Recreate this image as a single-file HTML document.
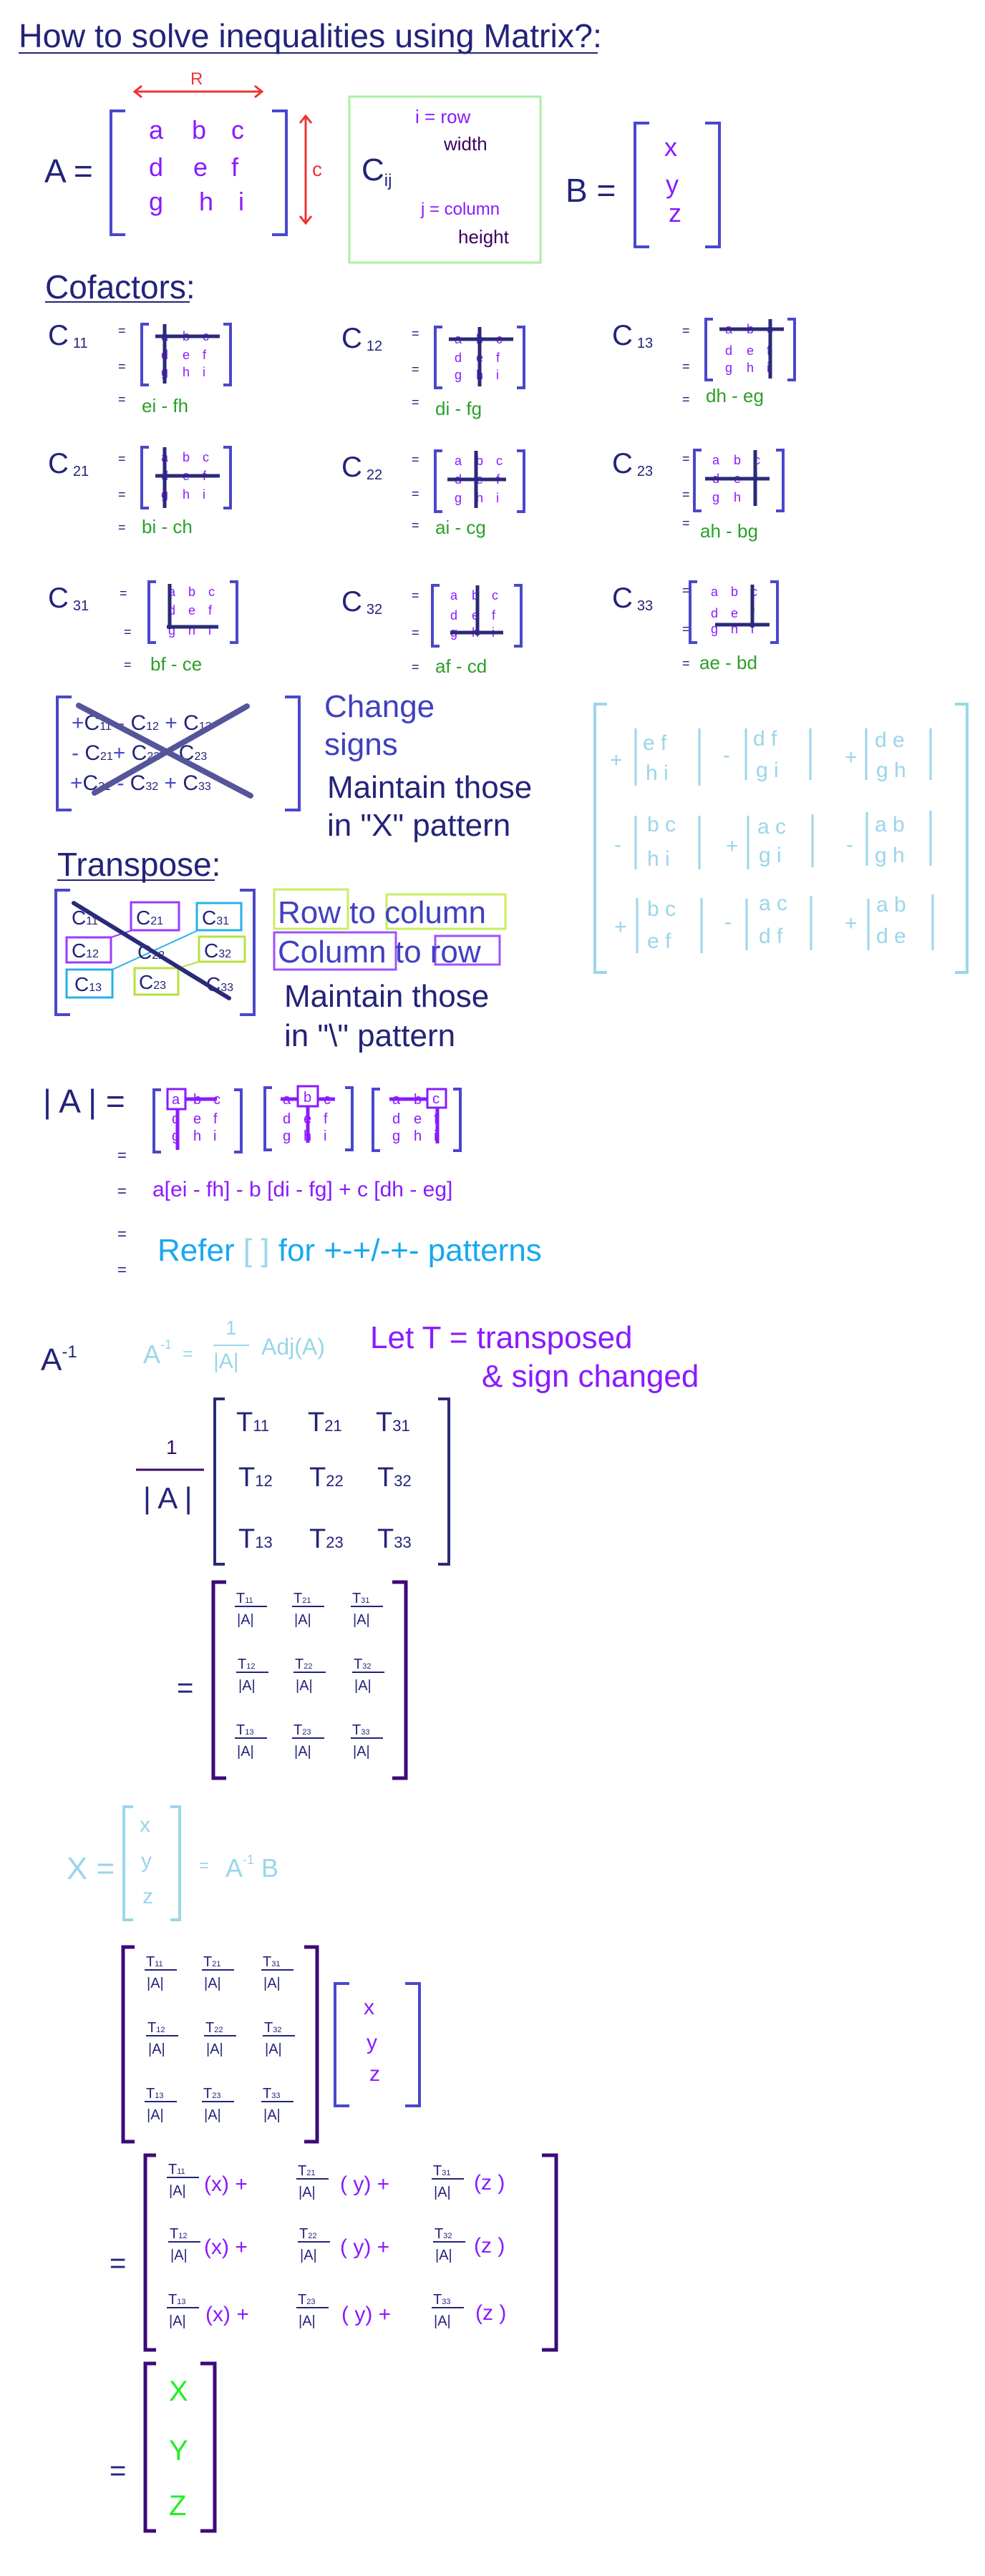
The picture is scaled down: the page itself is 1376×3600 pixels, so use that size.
<!DOCTYPE html>
<html><head><meta charset="utf-8"><style>
html,body{margin:0;padding:0;background:#fff}
svg{display:block}
text{font-family:"Liberation Sans",sans-serif}
.n{font-family:"Liberation Sans Narrow","Liberation Sans",sans-serif}
.br{fill:none;stroke:#4848cc;stroke-width:4}
.bp{fill:none;stroke:#3c0a7a;stroke-width:5}
.bl{fill:none;stroke:#9ad6ea;stroke-width:4}
.x{stroke:#2a2a7a;stroke-width:5;fill:none}
.p{fill:#8a1aff}
.nv{fill:#23237a}
.g{fill:#2aa02a}
.lb{fill:#9ad6ea}
</style></head><body>
<svg width="1376" height="3600" viewBox="0 0 1376 3600" xmlns="http://www.w3.org/2000/svg">
<!-- Title -->
<text x="26" y="66" class="n nv" font-size="46" textLength="815" lengthAdjust="spacingAndGlyphs">How to solve inequalities using Matrix?:</text>
<line x1="26" y1="74" x2="835" y2="74" stroke="#23237a" stroke-width="2"/>

<!-- A = -->
<text x="62" y="255" class="nv" font-size="46">A =</text>
<path class="br" d="M175 155 H155 V328 H175 M380 155 H400 V328 H380"/>
<g class="p" font-size="36">
<text x="208 268 323" y="194">abc</text>
<text x="208 270 323" y="246">def</text>
<text x="208 278 333" y="294">ghi</text>
</g>
<!-- red arrows -->
<g stroke="#ee3333" stroke-width="3" fill="none">
<path d="M188 128 H366 M198 120 L188 128 L198 136 M356 120 L366 128 L356 136"/>
<path d="M427 162 V312 M419 172 L427 162 L435 172 M419 302 L427 312 L435 302"/>
</g>
<text x="266" y="118" fill="#ee3333" font-size="24">R</text>
<text x="436" y="246" fill="#ee3333" font-size="28">c</text>
<!-- green box -->
<rect x="488" y="135" width="267" height="232" fill="none" stroke="#aaf0a0" stroke-width="3"/>
<text x="505" y="252" class="nv" font-size="44">C<tspan font-size="24" dy="8">ij</tspan></text>
<text x="580" y="172" class="p" font-size="26">i = row</text>
<text x="620" y="210" fill="#3a0060" font-size="26">width</text>
<text x="588" y="300" class="p" font-size="24">j = column</text>
<text x="640" y="340" fill="#3a0060" font-size="26">height</text>
<!-- B = -->
<text x="790" y="282" class="nv" font-size="46">B =</text>
<path class="br" d="M907 172 H887 V345 H907 M985 172 H1005 V345 H985"/>
<g class="p" font-size="36"><text x="928" y="218">x</text><text x="930" y="270">y</text><text x="934" y="310">z</text></g>

<!-- Cofactors -->
<text x="63" y="417" class="n nv" font-size="46">Cofactors:</text>
<line x1="63" y1="422" x2="265" y2="422" stroke="#23237a" stroke-width="2"/>

<!-- cofactor cells -->
<g font-size="18">
<!-- C11 -->
<g transform="translate(67,446)">
<text y="36" class="nv" font-size="40">C<tspan font-size="20" dx="6" dy="4">11</tspan></text>
<g class="nv"><text x="98" y="22">=</text><text x="98" y="72">=</text><text x="98" y="118">=</text></g>
<path class="br" d="M141 7 H131 V92 H141 M245 7 H255 V92 H245"/>
<g class="p"><text x="158 188 216" y="30">abc</text><text x="158 188 216" y="56">def</text><text x="158 188 216" y="80">ghi</text></g>
<path class="x" d="M150 24 H240 M163 7 V90"/>
<text x="131" y="130" class="g" font-size="26">ei - fh</text>
</g>
<!-- C12 -->
<g transform="translate(477,450)">
<text y="36" class="nv" font-size="40">C<tspan font-size="20" dx="6" dy="4">12</tspan></text>
<g class="nv"><text x="98" y="22">=</text><text x="98" y="72">=</text><text x="98" y="118">=</text></g>
<path class="br" d="M141 7 H131 V92 H141 M245 7 H255 V92 H245"/>
<g class="p"><text x="158 188 216" y="30">abc</text><text x="158 188 216" y="56">def</text><text x="158 188 216" y="80">ghi</text></g>
<path class="x" d="M150 24 H240 M193 7 V90"/>
<text x="131" y="130" class="g" font-size="26">di - fg</text>
</g>
<!-- C13 -->
<g transform="translate(855,446)">
<text y="36" class="nv" font-size="40">C<tspan font-size="20" dx="6" dy="4">13</tspan></text>
<g class="nv"><text x="98" y="22">=</text><text x="98" y="72">=</text><text x="98" y="118">=</text></g>
<path class="br" d="M141 0 H131 V85 H141 M245 0 H255 V85 H245"/>
<g class="p"><text x="158 188 216" y="20">abc</text><text x="158 188 216" y="50">def</text><text x="158 188 216" y="74">ghi</text></g>
<path class="x" d="M150 14 H240 M221 0 V83"/>
<text x="131" y="116" class="g" font-size="26">dh - eg</text>
</g>
<!-- C21 -->
<g transform="translate(67,625)">
<text y="36" class="nv" font-size="40">C<tspan font-size="20" dx="6" dy="4">21</tspan></text>
<g class="nv"><text x="98" y="22">=</text><text x="98" y="72">=</text><text x="98" y="118">=</text></g>
<path class="br" d="M141 0 H131 V85 H141 M245 0 H255 V85 H245"/>
<g class="p"><text x="158 188 216" y="20">abc</text><text x="158 188 216" y="46">def</text><text x="158 188 216" y="72">ghi</text></g>
<path class="x" d="M150 40 H240 M163 0 V85"/>
<text x="131" y="120" class="g" font-size="26">bi - ch</text>
</g>
<!-- C22 -->
<g transform="translate(477,630)">
<text y="36" class="nv" font-size="40">C<tspan font-size="20" dx="6" dy="4">22</tspan></text>
<g class="nv"><text x="98" y="18">=</text><text x="98" y="66">=</text><text x="98" y="110">=</text></g>
<path class="br" d="M141 0 H131 V85 H141 M245 0 H255 V85 H245"/>
<g class="p"><text x="158 188 216" y="20">abc</text><text x="158 188 216" y="46">def</text><text x="158 188 216" y="72">ghi</text></g>
<path class="x" d="M148 40 H230 M188 0 V80"/>
<text x="131" y="116" class="g" font-size="26">ai - cg</text>
</g>
<!-- C23 -->
<g transform="translate(855,625)">
<text y="36" class="nv" font-size="40">C<tspan font-size="20" dx="6" dy="4">23</tspan></text>
<g class="nv"><text x="98" y="22">=</text><text x="98" y="72">=</text><text x="98" y="112">=</text></g>
<path class="br" d="M125 4 H115 V89 H125 M229 4 H239 V89 H229"/>
<g class="p"><text x="140 170 198" y="24">abc</text><text x="140 170 198" y="50">def</text><text x="140 170 198" y="76">ghi</text></g>
<path class="x" d="M130 44 H220 M200 4 V82"/>
<text x="123" y="126" class="g" font-size="26">ah - bg</text>
</g>
<!-- C31 -->
<g transform="translate(67,813)">
<text y="36" class="nv" font-size="40">C<tspan font-size="20" dx="6" dy="4">31</tspan></text>
<g class="nv"><text x="100" y="22">=</text><text x="106" y="76">=</text><text x="106" y="122">=</text></g>
<path class="br" d="M151 0 H141 V85 H151 M254 0 H264 V85 H254"/>
<g class="p"><text x="168 196 224" y="20">abc</text><text x="168 196 224" y="46">def</text><text x="168 196 224" y="74">ghi</text></g>
<path class="x" d="M170 3 V66 M166 63 H238"/>
<text x="143" y="124" class="g" font-size="26">bf - ce</text>
</g>
<!-- C32 -->
<g transform="translate(477,818)">
<text y="36" class="nv" font-size="40">C<tspan font-size="20" dx="6" dy="4">32</tspan></text>
<g class="nv"><text x="98" y="20">=</text><text x="98" y="72">=</text><text x="98" y="120">=</text></g>
<path class="br" d="M137 0 H127 V85 H137 M241 0 H251 V85 H241"/>
<g class="p"><text x="152 182 210" y="20">abc</text><text x="152 182 210" y="48">def</text><text x="152 182 210" y="72">ghi</text></g>
<path class="x" d="M190 0 V70 M152 66 H226"/>
<text x="131" y="122" class="g" font-size="26">af - cd</text>
</g>
<!-- C33 -->
<g transform="translate(855,813)">
<text y="36" class="nv" font-size="40">C<tspan font-size="20" dx="6" dy="4">33</tspan></text>
<g class="nv"><text x="98" y="18">=</text><text x="98" y="72">=</text><text x="98" y="120">=</text></g>
<path class="br" d="M119 0 H109 V85 H119 M221 0 H231 V85 H221"/>
<g class="p"><text x="138 166 194" y="20">abc</text><text x="138 166 194" y="50">def</text><text x="138 166 194" y="72">ghi</text></g>
<path class="x" d="M196 4 V64 M144 60 H220"/>
<text x="122" y="122" class="g" font-size="26">ae - bd</text>
</g>
</g>

<!-- Change signs matrix -->
<path class="br" d="M100 974 H80 V1132 H100 M398 974 H418 V1132 H398"/>
<g class="nv" font-size="30">
<text x="100" y="1020"><tspan fill="#4848cc">+</tspan>C<tspan font-size="16">11</tspan> <tspan fill="#4848cc">-</tspan>  C<tspan font-size="16">12</tspan>  <tspan fill="#4848cc">+</tspan> C<tspan font-size="16">13</tspan></text>
<text x="100" y="1062"><tspan fill="#4848cc">-</tspan> C<tspan font-size="16">21</tspan><tspan fill="#4848cc">+</tspan>  C<tspan font-size="16">22</tspan>  <tspan fill="#4848cc">-</tspan> C<tspan font-size="16">23</tspan></text>
<text x="98" y="1104"><tspan fill="#4848cc">+</tspan>C<tspan font-size="16">31</tspan> <tspan fill="#4848cc">-</tspan> C<tspan font-size="16">32</tspan> <tspan fill="#4848cc">+</tspan> C<tspan font-size="16">33</tspan></text>
</g>
<path d="M110 986 L350 1112 M345 987 L132 1108" stroke="#55559a" stroke-width="8" stroke-linecap="round"/>
<g class="n" font-size="44" fill="#4040c0"><text x="453" y="1002">Change</text><text x="453" y="1055">signs</text></g>
<g class="n nv" font-size="44"><text x="457" y="1115">Maintain those</text><text x="457" y="1168">in "X" pattern</text></g>

<!-- light blue matrix -->
<path class="bl" d="M848 984 H831 V1359 H848 M1334 984 H1351 V1359 H1334"/>
<g class="lb" font-size="30">
<text x="852" y="1072">+</text><text x="898" y="1048">e f</text><text x="902" y="1090">h i</text>
<text x="1010" y="1065">-</text><text x="1052" y="1042">d f</text><text x="1056" y="1086">g i</text>
<text x="1180" y="1068">+</text><text x="1222" y="1044">d e</text><text x="1224" y="1086">g h</text>
<text x="858" y="1190">-</text><text x="904" y="1162">b c</text><text x="904" y="1210">h i</text>
<text x="1014" y="1192">+</text><text x="1058" y="1165">a c</text><text x="1060" y="1205">g i</text>
<text x="1182" y="1190">-</text><text x="1222" y="1162">a b</text><text x="1222" y="1205">g h</text>
<text x="858" y="1305">+</text><text x="904" y="1280">b c</text><text x="904" y="1325">e f</text>
<text x="1012" y="1298">-</text><text x="1060" y="1272">a c</text><text x="1060" y="1318">d f</text>
<text x="1180" y="1300">+</text><text x="1224" y="1274">a b</text><text x="1224" y="1318">d e</text>
</g>
<g stroke="#9ad6ea" stroke-width="3">
<path d="M888 1018 V1098 M977 1018 V1098 M1042 1018 V1090 M1132 1018 V1090 M1210 1018 V1090 M1300 1018 V1090"/>
<path d="M888 1140 V1215 M977 1140 V1215 M1045 1140 V1215 M1135 1138 V1212 M1211 1135 V1210 M1300 1133 V1210"/>
<path d="M890 1255 V1332 M980 1255 V1332 M1043 1256 V1328 M1133 1252 V1328 M1213 1256 V1328 M1303 1250 V1328"/>
</g>

<!-- Transpose -->
<text x="80" y="1224" class="n nv" font-size="46">Transpose:</text>
<line x1="80" y1="1230" x2="300" y2="1230" stroke="#23237a" stroke-width="2"/>
<path class="br" d="M98 1244 H78 V1418 H98 M335 1244 H355 V1418 H335"/>
<g fill="none" stroke-width="3">
<rect x="183" y="1261" width="67" height="39" stroke="#9a3aff"/>
<rect x="275" y="1262" width="62" height="38" stroke="#28b0e8"/>
<rect x="93" y="1310" width="62" height="35" stroke="#9a3aff"/>
<rect x="278" y="1309" width="64" height="35" stroke="#b8e040"/>
<rect x="93" y="1355" width="64" height="39" stroke="#28b0e8"/>
<rect x="188" y="1353" width="61" height="37" stroke="#b8e040"/>
<path d="M155 1310 L185 1300" stroke="#9a3aff" stroke-width="2"/>
<path d="M157 1355 L277 1300" stroke="#28b0e8" stroke-width="2"/>
<path d="M249 1353 L278 1344" stroke="#b8e040" stroke-width="2"/>
</g>
<g class="nv" font-size="28">
<text x="100" y="1292">C<tspan font-size="16">11</tspan></text>
<text x="190" y="1292">C<tspan font-size="16">21</tspan></text>
<text x="282" y="1292">C<tspan font-size="16">31</tspan></text>
<text x="100" y="1338">C<tspan font-size="16">12</tspan></text>
<text x="192" y="1340">C<tspan font-size="16">22</tspan></text>
<text x="285" y="1338">C<tspan font-size="16">32</tspan></text>
<text x="104" y="1385">C<tspan font-size="16">13</tspan></text>
<text x="194" y="1382">C<tspan font-size="16">23</tspan></text>
<text x="288" y="1385">C<tspan font-size="16">33</tspan></text>
</g>
<path d="M103 1262 L320 1395" stroke="#2a2a7a" stroke-width="6" stroke-linecap="round"/>
<g fill="none" stroke-width="3">
<rect x="383" y="1243" width="103" height="55" stroke="#c8ee60"/>
<rect x="540" y="1250" width="166" height="48" stroke="#c8ee60"/>
<rect x="383" y="1303" width="170" height="52" stroke="#a050ff"/>
<rect x="608" y="1308" width="90" height="40" stroke="#a050ff"/>
</g>
<g class="n" font-size="44" fill="#4040c0"><text x="388" y="1290">Row to column</text><text x="388" y="1345">Column to row</text></g>
<g class="n nv" font-size="44"><text x="397" y="1407">Maintain those</text><text x="397" y="1462">in "\" pattern</text></g>

<!-- |A| = -->
<text x="60" y="1555" class="nv" font-size="46">| A | =</text>
<g font-size="20" class="p">
<path class="br" d="M225 1523 H215 V1610 H225 M327 1523 H337 V1610 H327"/>
<text x="240 270 298" y="1543">abc</text><text x="240 270 298" y="1570">def</text><text x="240 270 298" y="1594">ghi</text>
<path d="M248 1536 H303 M248 1536 V1607" stroke="#8a1aff" stroke-width="5"/>
<rect x="234" y="1522" width="25" height="28" fill="#fff" stroke="#8a1aff" stroke-width="3"/><text x="240" y="1543">a</text>
<path class="br" d="M380 1520 H370 V1607 H380 M482 1520 H492 V1607 H482"/>
<text x="395 424 452" y="1543">abc</text><text x="395 424 452" y="1570">def</text><text x="395 424 452" y="1594">ghi</text>
<path d="M392 1536 H468 M430 1536 V1597" stroke="#8a1aff" stroke-width="5"/>
<rect x="416" y="1518" width="28" height="28" fill="#fff" stroke="#8a1aff" stroke-width="3"/><text x="424" y="1540">b</text>
<path class="br" d="M531 1522 H521 V1608 H531 M633 1522 H643 V1608 H633"/>
<text x="548 578 606" y="1543">abc</text><text x="548 578 606" y="1570">def</text><text x="548 578 606" y="1594">ghi</text>
<path d="M544 1536 H610 M611 1540 V1598" stroke="#8a1aff" stroke-width="5"/>
<rect x="597" y="1522" width="26" height="26" fill="#fff" stroke="#8a1aff" stroke-width="3"/><text x="604" y="1542">c</text>
</g>
<g class="nv" font-size="22"><text x="164" y="1622">=</text><text x="164" y="1672">=</text><text x="164" y="1732">=</text><text x="164" y="1782">=</text></g>
<text x="213" y="1672" class="p" font-size="30">a[ei - fh] - b [di - fg] + c [dh - eg]</text>
<text x="220" y="1762" class="n" font-size="44" fill="#18a8f0">Refer <tspan fill="#9ad6ea">[   ]</tspan> for +-+/-+- patterns</text>

<!-- A^-1 -->
<text x="57" y="1915" class="nv" font-size="44">A<tspan font-size="24" dy="-18">-1</tspan></text>
<g class="lb" font-size="36">
<text x="200" y="1905">A<tspan font-size="18" dy="-20">-1</tspan></text>
<text x="255" y="1900" font-size="24">=</text>
<text x="315" y="1865" font-size="28">1</text>
<line x1="298" y1="1880" x2="348" y2="1880" stroke="#9ad6ea" stroke-width="2"/>
<text x="298" y="1912" font-size="30">|A|</text>
<text x="365" y="1893" font-size="32">Adj(A)</text>
</g>
<g class="n p" font-size="44"><text x="517" y="1884">Let T = transposed</text><text x="673" y="1938">&amp; sign changed</text></g>

<!-- 1/|A| T matrix -->
<text x="232" y="2032" fill="#3a0a6a" font-size="28">1</text>
<line x1="190" y1="2054" x2="285" y2="2054" stroke="#3a0a6a" stroke-width="3"/>
<text x="200" y="2108" class="nv" font-size="42">| A |</text>
<path d="M314 1955 H300 V2186 H314 M612 1955 H627 V2186 H612" fill="none" stroke="#2a2a7a" stroke-width="4"/>
<g class="nv" font-size="38">
<text x="330" y="2000">T<tspan font-size="22">11</tspan></text><text x="430" y="2000">T<tspan font-size="22">21</tspan></text><text x="525" y="2000">T<tspan font-size="22">31</tspan></text>
<text x="333" y="2077">T<tspan font-size="22">12</tspan></text><text x="432" y="2077">T<tspan font-size="22">22</tspan></text><text x="527" y="2077">T<tspan font-size="22">32</tspan></text>
<text x="333" y="2163">T<tspan font-size="22">13</tspan></text><text x="432" y="2163">T<tspan font-size="22">23</tspan></text><text x="527" y="2163">T<tspan font-size="22">33</tspan></text>
</g>

<!-- fraction matrix 1 -->
<text x="247" y="2372" class="nv" font-size="40">=</text>
<path class="bp" d="M316 2211 H298 V2485 H316 M548 2211 H567 V2485 H548"/>
<g class="nv" font-size="20">
<g transform="translate(330,2240)"><text>T<tspan font-size="11">11</tspan></text><line x1="-2" y1="5" x2="43" y2="5" stroke="#23237a" stroke-width="2"/><text x="1" y="30">|A|</text></g>
<g transform="translate(410,2240)"><text>T<tspan font-size="11">21</tspan></text><line x1="-2" y1="5" x2="43" y2="5" stroke="#23237a" stroke-width="2"/><text x="1" y="30">|A|</text></g>
<g transform="translate(492,2240)"><text>T<tspan font-size="11">31</tspan></text><line x1="-2" y1="5" x2="43" y2="5" stroke="#23237a" stroke-width="2"/><text x="1" y="30">|A|</text></g>
<g transform="translate(332,2332)"><text>T<tspan font-size="11">12</tspan></text><line x1="-2" y1="5" x2="43" y2="5" stroke="#23237a" stroke-width="2"/><text x="1" y="30">|A|</text></g>
<g transform="translate(412,2332)"><text>T<tspan font-size="11">22</tspan></text><line x1="-2" y1="5" x2="43" y2="5" stroke="#23237a" stroke-width="2"/><text x="1" y="30">|A|</text></g>
<g transform="translate(494,2332)"><text>T<tspan font-size="11">32</tspan></text><line x1="-2" y1="5" x2="43" y2="5" stroke="#23237a" stroke-width="2"/><text x="1" y="30">|A|</text></g>
<g transform="translate(330,2424)"><text>T<tspan font-size="11">13</tspan></text><line x1="-2" y1="5" x2="43" y2="5" stroke="#23237a" stroke-width="2"/><text x="1" y="30">|A|</text></g>
<g transform="translate(410,2424)"><text>T<tspan font-size="11">23</tspan></text><line x1="-2" y1="5" x2="43" y2="5" stroke="#23237a" stroke-width="2"/><text x="1" y="30">|A|</text></g>
<g transform="translate(492,2424)"><text>T<tspan font-size="11">33</tspan></text><line x1="-2" y1="5" x2="43" y2="5" stroke="#23237a" stroke-width="2"/><text x="1" y="30">|A|</text></g>
</g>

<!-- X = -->
<text x="93" y="2626" class="lb" font-size="44">X =</text>
<path class="bl" d="M186 2525 H173 V2683 H186 M238 2525 H251 V2683 H238"/>
<g class="lb" font-size="30"><text x="195" y="2560">x</text><text x="197" y="2610">y</text><text x="199" y="2660">z</text></g>
<text x="278" y="2615" class="lb" font-size="24">=</text>
<text x="315" y="2623" class="lb" font-size="36">A<tspan font-size="18" dy="-18">-1</tspan><tspan dy="18"> B</tspan></text>

<!-- fraction matrix 2 times xyz -->
<path class="bp" d="M188 2721 H172 V2993 H188 M425 2721 H443 V2993 H425"/>
<g class="nv" font-size="20">
<g transform="translate(204,2748)"><text>T<tspan font-size="11">11</tspan></text><line x1="-2" y1="5" x2="43" y2="5" stroke="#23237a" stroke-width="2"/><text x="1" y="30">|A|</text></g>
<g transform="translate(284,2748)"><text>T<tspan font-size="11">21</tspan></text><line x1="-2" y1="5" x2="43" y2="5" stroke="#23237a" stroke-width="2"/><text x="1" y="30">|A|</text></g>
<g transform="translate(367,2748)"><text>T<tspan font-size="11">31</tspan></text><line x1="-2" y1="5" x2="43" y2="5" stroke="#23237a" stroke-width="2"/><text x="1" y="30">|A|</text></g>
<g transform="translate(206,2840)"><text>T<tspan font-size="11">12</tspan></text><line x1="-2" y1="5" x2="43" y2="5" stroke="#23237a" stroke-width="2"/><text x="1" y="30">|A|</text></g>
<g transform="translate(287,2840)"><text>T<tspan font-size="11">22</tspan></text><line x1="-2" y1="5" x2="43" y2="5" stroke="#23237a" stroke-width="2"/><text x="1" y="30">|A|</text></g>
<g transform="translate(369,2840)"><text>T<tspan font-size="11">32</tspan></text><line x1="-2" y1="5" x2="43" y2="5" stroke="#23237a" stroke-width="2"/><text x="1" y="30">|A|</text></g>
<g transform="translate(204,2932)"><text>T<tspan font-size="11">13</tspan></text><line x1="-2" y1="5" x2="43" y2="5" stroke="#23237a" stroke-width="2"/><text x="1" y="30">|A|</text></g>
<g transform="translate(284,2932)"><text>T<tspan font-size="11">23</tspan></text><line x1="-2" y1="5" x2="43" y2="5" stroke="#23237a" stroke-width="2"/><text x="1" y="30">|A|</text></g>
<g transform="translate(367,2932)"><text>T<tspan font-size="11">33</tspan></text><line x1="-2" y1="5" x2="43" y2="5" stroke="#23237a" stroke-width="2"/><text x="1" y="30">|A|</text></g>
</g>
<path class="br" d="M488 2772 H468 V2943 H488 M566 2772 H586 V2943 H566"/>
<g class="p" font-size="30"><text x="508" y="2815">x</text><text x="512" y="2864">y</text><text x="516" y="2908">z</text></g>

<!-- big expanded matrix -->
<text x="153" y="3176" class="nv" font-size="40">=</text>
<path class="bp" d="M218 3012 H203 V3284 H218 M757 3012 H777 V3284 H757"/>
<g class="nv" font-size="20">
<g transform="translate(235,3038)"><text>T<tspan font-size="11">11</tspan></text><line x1="-2" y1="5" x2="43" y2="5" stroke="#23237a" stroke-width="2"/><text x="1" y="30">|A|</text></g>
<g transform="translate(416,3040)"><text>T<tspan font-size="11">21</tspan></text><line x1="-2" y1="5" x2="43" y2="5" stroke="#23237a" stroke-width="2"/><text x="1" y="30">|A|</text></g>
<g transform="translate(605,3040)"><text>T<tspan font-size="11">31</tspan></text><line x1="-2" y1="5" x2="43" y2="5" stroke="#23237a" stroke-width="2"/><text x="1" y="30">|A|</text></g>
<g transform="translate(237,3128)"><text>T<tspan font-size="11">12</tspan></text><line x1="-2" y1="5" x2="43" y2="5" stroke="#23237a" stroke-width="2"/><text x="1" y="30">|A|</text></g>
<g transform="translate(418,3128)"><text>T<tspan font-size="11">22</tspan></text><line x1="-2" y1="5" x2="43" y2="5" stroke="#23237a" stroke-width="2"/><text x="1" y="30">|A|</text></g>
<g transform="translate(607,3128)"><text>T<tspan font-size="11">32</tspan></text><line x1="-2" y1="5" x2="43" y2="5" stroke="#23237a" stroke-width="2"/><text x="1" y="30">|A|</text></g>
<g transform="translate(235,3220)"><text>T<tspan font-size="11">13</tspan></text><line x1="-2" y1="5" x2="43" y2="5" stroke="#23237a" stroke-width="2"/><text x="1" y="30">|A|</text></g>
<g transform="translate(416,3220)"><text>T<tspan font-size="11">23</tspan></text><line x1="-2" y1="5" x2="43" y2="5" stroke="#23237a" stroke-width="2"/><text x="1" y="30">|A|</text></g>
<g transform="translate(605,3220)"><text>T<tspan font-size="11">33</tspan></text><line x1="-2" y1="5" x2="43" y2="5" stroke="#23237a" stroke-width="2"/><text x="1" y="30">|A|</text></g>
</g>
<g class="p" font-size="30">
<text x="285" y="3062">(x)  +</text><text x="475" y="3062">( y)  +</text><text x="662" y="3060">(z )</text>
<text x="285" y="3150">(x)  +</text><text x="475" y="3150">( y)  +</text><text x="662" y="3148">(z )</text>
<text x="287" y="3244">(x)  +</text><text x="477" y="3244">( y)  +</text><text x="664" y="3242">(z )</text>
</g>

<!-- final -->
<text x="153" y="3466" class="nv" font-size="40">=</text>
<path class="bp" d="M218 3303 H203 V3537 H218 M280 3303 H300 V3537 H280"/>
<g fill="#22ee22" font-size="40"><text x="236" y="3355">X</text><text x="236" y="3438">Y</text><text x="236" y="3515">Z</text></g>
</svg>
</body></html>
